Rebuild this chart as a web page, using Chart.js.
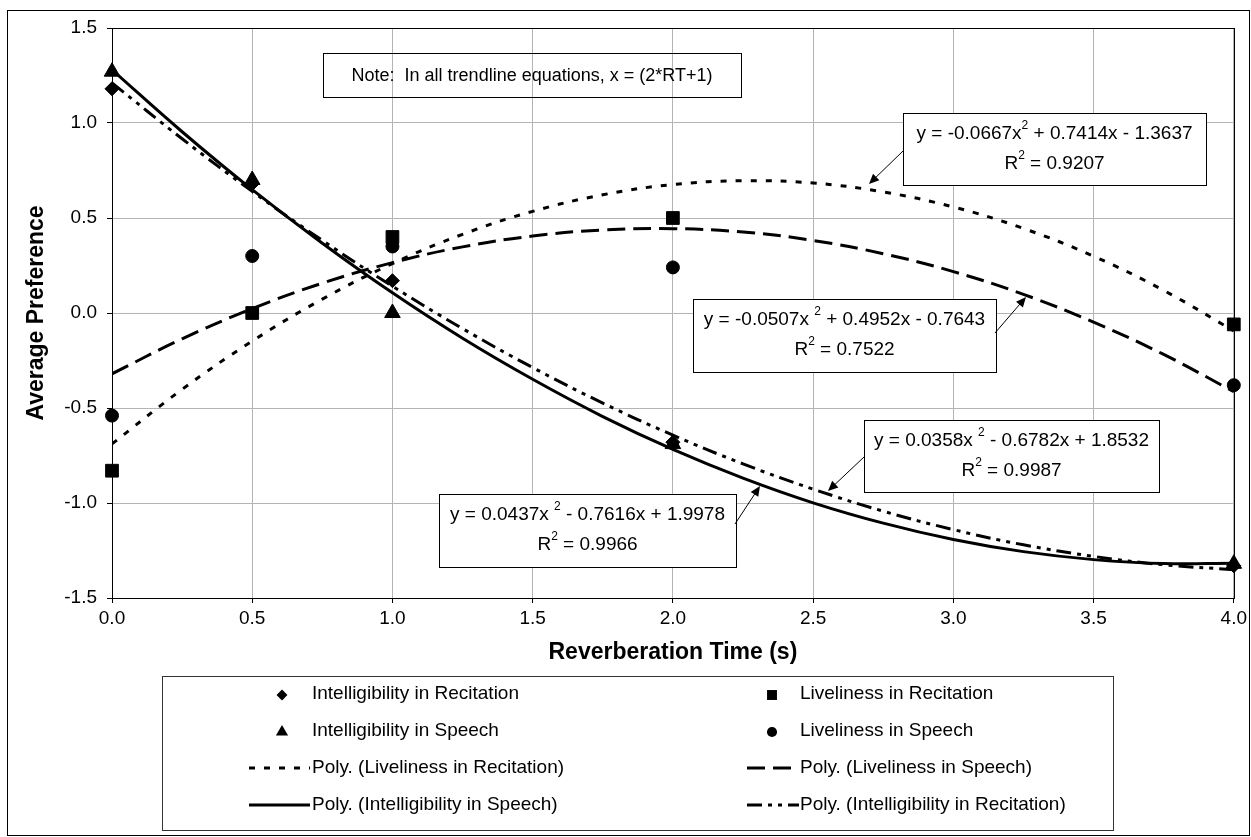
<!DOCTYPE html>
<html><head><meta charset="utf-8">
<script src="https://cdn.jsdelivr.net/npm/chart.js@4/dist/chart.umd.min.js"></script>
<style>html,body{margin:0;padding:0;background:#fff;}#wrap{width:1251px;height:837px;}</style>
</head><body><div id="wrap"><canvas id="c" width="1251" height="837"></canvas></div>
<script>
// ---- data ----
const rtMeasured = [0, 0.5, 1, 2, 4];
const intelRecitation = [1.18, 0.68, 0.17, -0.68, -1.33];
const liveRecitation = [-0.83, 0.00, 0.40, 0.50, -0.06];
const intelSpeech = [1.27, 0.70, 0.00, -0.69, -1.32];
const liveSpeech = [-0.54, 0.30, 0.35, 0.24, -0.38];

const rtTrend = [0, 0.25, 0.5, 0.75, 1, 1.25, 1.5, 1.75, 2, 2.25, 2.5, 2.75, 3, 3.25, 3.5, 3.75, 4];
const trendLiveRecitation = [-0.689, -0.402, -0.148, 0.073, 0.260, 0.414, 0.535, 0.622, 0.676, 0.696, 0.684, 0.637, 0.558, 0.445, 0.299, 0.119, -0.094];
const trendLiveSpeech = [-0.320, -0.136, 0.023, 0.157, 0.265, 0.348, 0.405, 0.437, 0.444, 0.426, 0.382, 0.312, 0.218, 0.098, -0.048, -0.218, -0.414];
const trendIntelSpeech = [1.280, 0.954, 0.649, 0.367, 0.106, -0.133, -0.349, -0.545, -0.718, -0.869, -0.999, -1.106, -1.192, -1.256, -1.298, -1.319, -1.317];
const trendIntelRecitation = [1.211, 0.917, 0.640, 0.382, 0.141, -0.082, -0.287, -0.474, -0.643, -0.794, -0.927, -1.043, -1.140, -1.220, -1.281, -1.325, -1.351];

const xTickValues = [0, 0.5, 1, 1.5, 2, 2.5, 3, 3.5, 4];
const yTickValues = [-1.5, -1.0, -0.5, 0.0, 0.5, 1.0, 1.5];

const seriesNames = ['Intelligibility in Recitation', 'Liveliness in Recitation', 'Intelligibility in Speech', 'Liveliness in Speech',
  'Poly. (Liveliness in Recitation)', 'Poly. (Liveliness in Speech)', 'Poly. (Intelligibility in Speech)', 'Poly. (Intelligibility in Recitation)'];

const noteText = 'Note:  In all trendline equations, x = (2*RT+1)';
const equations = [
  {l1: ['y = -0.0667x', '2', ' + 0.7414x - 1.3637'], r2: '0.9207'},
  {l1: ['y = -0.0507x ', '2', ' + 0.4952x - 0.7643'], r2: '0.7522'},
  {l1: ['y = 0.0358x ', '2', ' - 0.6782x + 1.8532'], r2: '0.9987'},
  {l1: ['y = 0.0437x ', '2', ' - 0.7616x + 1.9978'], r2: '0.9966'}
];

// ---- layout (pixels) ----
const FAM = "'Liberation Sans', Arial, sans-serif";
const eqBoxes = [
  {x: 903, y: 113, w: 303, h: 72, arrow: [903, 151, 869, 184]},
  {x: 693, y: 299, w: 303, h: 73, arrow: [995, 333, 1026, 297]},
  {x: 864, y: 420, w: 295, h: 72, arrow: [864, 457, 828, 491]},
  {x: 439, y: 494, w: 297, h: 73, arrow: [735, 524, 760, 486]}
];

const pts = (xs, ys) => xs.map((x, i) => ({x: x, y: ys[i]}));
const pointDs = (label, data, style, r) => ({label, data: pts(rtMeasured, data), showLine: false, pointStyle: style,
  pointRadius: r, pointHoverRadius: r, backgroundColor: '#000', borderColor: '#000', pointBorderWidth: 1, clip: false});
const lineDs = (label, data, dash) => ({label, data: pts(rtTrend, data), showLine: true, pointRadius: 0, pointHoverRadius: 0,
  borderColor: '#000', borderWidth: 3, borderDash: dash, tension: 0.4, fill: false});

function drawMarker(ctx, style, x, y, r) {
  ctx.beginPath();
  if (style === 'rectRot') { ctx.moveTo(x, y - r); ctx.lineTo(x + r, y); ctx.lineTo(x, y + r); ctx.lineTo(x - r, y); ctx.closePath(); }
  else if (style === 'rect') { const s = r * Math.SQRT1_2; ctx.rect(x - s, y - s, 2 * s, 2 * s); }
  else if (style === 'triangle') { const a = r * 0.866; ctx.moveTo(x, y - r); ctx.lineTo(x + a, y + r / 2); ctx.lineTo(x - a, y + r / 2); ctx.closePath(); }
  else { ctx.arc(x, y, r, 0, Math.PI * 2); }
  ctx.fill();
}
function drawRich(ctx, parts, cx, cy, size) {
  const items = parts.map((t, i) => ({t, sup: i === 1}));
  let total = 0;
  items.forEach(p => { ctx.font = (p.sup ? Math.round(size * 0.65) : size) + 'px ' + FAM; p.w = ctx.measureText(p.t).width; total += p.w; });
  let x = cx - total / 2;
  ctx.textAlign = 'left'; ctx.textBaseline = 'middle'; ctx.fillStyle = '#000';
  items.forEach(p => { ctx.font = (p.sup ? Math.round(size * 0.65) : size) + 'px ' + FAM; ctx.fillText(p.t, x, p.sup ? cy - size * 0.42 : cy); x += p.w; });
}
function drawArrow(ctx, x1, y1, x2, y2) {
  ctx.strokeStyle = '#000'; ctx.lineWidth = 1; ctx.setLineDash([]);
  const ang = Math.atan2(y2 - y1, x2 - x1), L = 10, W = 4.5;
  ctx.beginPath(); ctx.moveTo(x1, y1); ctx.lineTo(x2 - Math.cos(ang) * L * 0.8, y2 - Math.sin(ang) * L * 0.8); ctx.stroke();
  ctx.beginPath(); ctx.moveTo(x2, y2);
  ctx.lineTo(x2 - Math.cos(ang) * L + Math.sin(ang) * W, y2 - Math.sin(ang) * L - Math.cos(ang) * W);
  ctx.lineTo(x2 - Math.cos(ang) * L - Math.sin(ang) * W, y2 - Math.sin(ang) * L + Math.cos(ang) * W);
  ctx.closePath(); ctx.fillStyle = '#000'; ctx.fill();
}

const decor = {
  id: 'decor',
  beforeDraw(chart) {
    const ctx = chart.ctx; ctx.save();
    ctx.fillStyle = '#fff'; ctx.fillRect(0, 0, chart.width, chart.height);
    ctx.restore();
  },
  afterDraw(chart) {
    const ctx = chart.ctx, ca = chart.chartArea;
    ctx.save();
    // plot border
    ctx.strokeStyle = '#000'; ctx.lineWidth = 1; ctx.setLineDash([]);
    ctx.strokeRect(Math.round(ca.left) + 0.5, Math.round(ca.top) + 0.5, Math.round(ca.right - ca.left), Math.round(ca.bottom - ca.top));
    // outer border
    ctx.strokeRect(7.5, 10.5, 1242, 825);
    // note box (transparent)
    ctx.strokeRect(323.5, 53.5, 418, 44);
    ctx.fillStyle = '#000'; ctx.font = '18px ' + FAM; ctx.textAlign = 'center'; ctx.textBaseline = 'middle';
    ctx.fillText(noteText, 532, 76);
    // equation boxes
    equations.forEach((eq, i) => {
      const b = eqBoxes[i];
      ctx.fillStyle = '#fff'; ctx.fillRect(b.x, b.y, b.w, b.h);
      ctx.strokeStyle = '#000'; ctx.lineWidth = 1; ctx.strokeRect(b.x + 0.5, b.y + 0.5, b.w, b.h);
      const cx = b.x + b.w / 2;
      drawRich(ctx, eq.l1, cx, b.y + 21, 19);
      drawRich(ctx, ['R', '2', ' = ' + eq.r2], cx, b.y + 51, 19);
      drawArrow(ctx, ...b.arrow);
    });
    // legend
    const L = {x: 162, y: 676, w: 951, h: 154};
    ctx.fillStyle = '#fff'; ctx.fillRect(L.x, L.y, L.w, L.h);
    ctx.strokeStyle = '#333'; ctx.lineWidth = 1; ctx.strokeRect(L.x + 0.5, L.y + 0.5, L.w, L.h);
    const cols = [{mx: 282, lx0: 249, lx1: 310, tx: 312}, {mx: 772, lx0: 747, lx1: 799, tx: 800}];
    chart.data.datasets.forEach((ds, i) => {
      const c = cols[i % 2], row = Math.floor(i / 2), y = 694 + row * 37;
      ctx.fillStyle = '#000'; ctx.strokeStyle = '#000';
      if (ds.showLine === false) {
        drawMarker(ctx, ds.pointStyle, c.mx, y + 1, ds.pointRadius * 0.78);
      } else {
        ctx.lineWidth = ds.borderWidth; ctx.setLineDash(ds.borderDash || []);
        ctx.beginPath(); ctx.moveTo(c.lx0, y); ctx.lineTo(c.lx1, y); ctx.stroke(); ctx.setLineDash([]);
      }
      ctx.font = '19px ' + FAM; ctx.textAlign = 'left'; ctx.textBaseline = 'middle'; ctx.fillStyle = '#000';
      ctx.fillText(ds.label, c.tx, y);
    });
    ctx.restore();
  }
};

Chart.defaults.font.family = FAM;
Chart.defaults.color = '#000';

new Chart(document.getElementById('c'), {
  type: 'scatter',
  data: {
    datasets: [
      pointDs(seriesNames[0], intelRecitation, 'rectRot', 7),
      pointDs(seriesNames[1], liveRecitation, 'rect', 9),
      pointDs(seriesNames[2], intelSpeech, 'triangle', 9),
      pointDs(seriesNames[3], liveSpeech, 'circle', 6.5),
      lineDs(seriesNames[4], trendLiveRecitation, [6, 9]),
      lineDs(seriesNames[5], trendLiveSpeech, [18, 8]),
      lineDs(seriesNames[6], trendIntelSpeech, []),
      lineDs(seriesNames[7], trendIntelRecitation, [15, 6, 4, 6, 4, 6])
    ]
  },
  options: {
    responsive: false, animation: false, devicePixelRatio: 1,
    layout: {padding: {left: 0, top: 28, right: 17, bottom: 159}},
    plugins: {legend: {display: false}, tooltip: {enabled: false}},
    scales: {
      x: {
        type: 'linear', min: 0, max: 4,
        afterBuildTicks: s => { s.ticks = xTickValues.map(v => ({value: v})); },
        afterFit: s => { s.height = 80; },
        ticks: {callback: v => Number(v).toFixed(1), font: {size: 19}, color: '#000', padding: 4, maxRotation: 0, autoSkip: false},
        grid: {color: '#b4b4b4', tickColor: '#000', tickLength: 5, lineWidth: 1},
        border: {color: '#000', width: 1},
        title: {display: true, text: 'Reverberation Time (s)', font: {size: 23, weight: 'bold'}, color: '#000', padding: {top: 0, bottom: 12}}
      },
      y: {
        type: 'linear', min: -1.5, max: 1.5,
        afterBuildTicks: s => { s.ticks = yTickValues.map(v => ({value: v})); },
        afterFit: s => { s.width = 112; },
        ticks: {callback: v => Number(v).toFixed(1), font: {size: 19}, color: '#000', padding: 10, autoSkip: false},
        grid: {color: '#b4b4b4', tickColor: '#000', tickLength: 5, lineWidth: 1},
        border: {color: '#000', width: 1},
        title: {display: true, text: 'Average Preference', font: {size: 23, weight: 'bold'}, color: '#000', padding: {top: 23, bottom: 0}}
      }
    }
  },
  plugins: [decor]
});
</script></body></html>
